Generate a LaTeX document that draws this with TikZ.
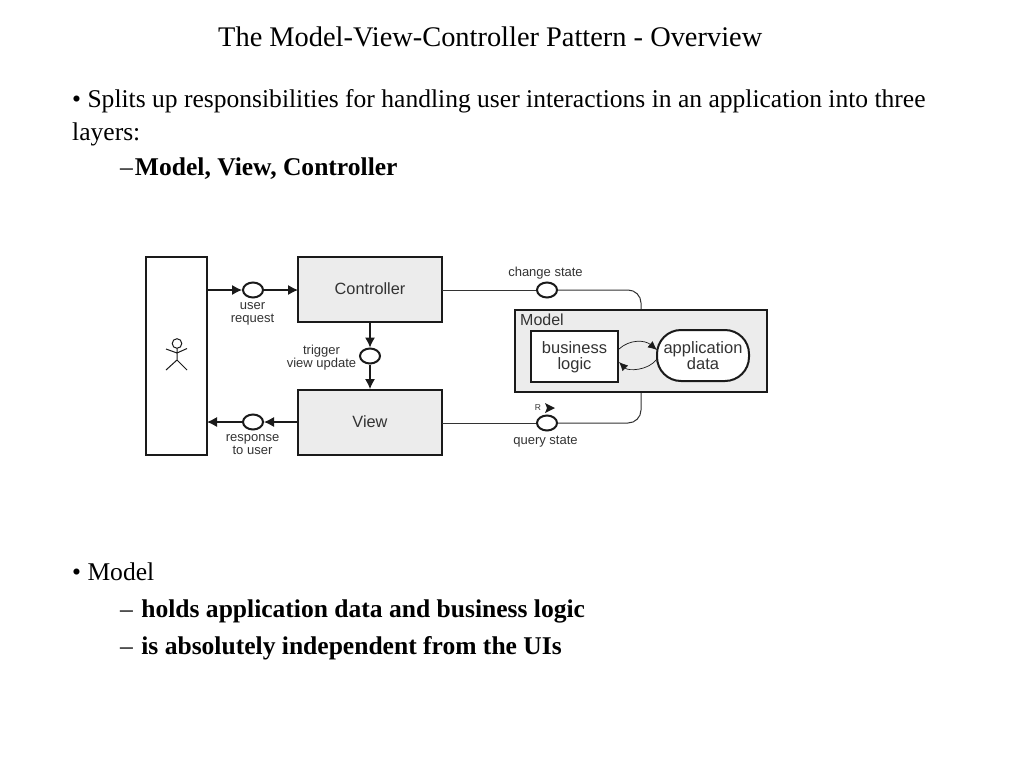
\documentclass[tikz,border=0pt]{standalone}
\usepackage{fontspec}
\setmainfont{Liberation Serif}
\newfontfamily\diagfont{Liberation Sans}
\usetikzlibrary{arrows.meta,shapes.geometric}
\definecolor{boxgray}{HTML}{ECECEC}
\definecolor{ink}{HTML}{1A1A1A}
\definecolor{lbl}{HTML}{333333}
\tikzset{
  x=1pt,y=-1pt,
  slide/.style={anchor=base west,inner sep=0pt,text=black,font=\fontsize{25.55}{30}\selectfont},
  boldline/.style={anchor=base west,inner sep=0pt,text=black,font=\fontsize{25.55}{30}\selectfont\bfseries},
  blockbox/.style={draw=ink,line width=2pt,fill=boxgray,inner sep=0pt,text=lbl,font=\diagfont\fontsize{16.3}{18}\selectfont},
  whitebox/.style={draw=ink,line width=2pt,fill=white,inner sep=0pt,text=lbl,align=center,font=\diagfont\fontsize{16.5}{16}\selectfont},
  port/.style={draw=ink,line width=2pt,fill=white,ellipse,minimum width=20pt,minimum height=15pt,inner sep=0pt},
  tinylabel/.style={inner sep=0pt,text=lbl,align=center,font=\diagfont\fontsize{13}{13}\selectfont},
  conn/.style={draw=lbl,line width=1pt},
  flow/.style={draw=ink,line width=1.1pt,-{Latex[length=10pt,width=10pt]}},
  loopflow/.style={draw=ink,line width=.7pt,-{Latex[length=9pt,width=8pt]}}
}
\begin{document}
\begin{tikzpicture}
\useasboundingbox[fill=white] (0,0) rectangle (1024,768);
% slide text
\node[anchor=base west,inner sep=0pt,font=\fontsize{28.4}{32}\selectfont] (title) at (218,47) {The Model-View-Controller Pattern - Overview};
\node[slide] (t1) at (72,107.8) {• Splits up responsibilities for handling user interactions in an application into three};
\node[slide] (t2) at (72,140.8) {layers:};
\node[boldline] (t3) at (120,175) {\mdseries –\kern2pt\bfseries Model, View, Controller};
\node[slide] (t4) at (72,580.8) {• Model};
\node[boldline] (t5) at (120,617.8) {\mdseries – \kern2pt\bfseries holds application data and business logic};
\node[boldline] (t6) at (120,654.8) {\mdseries – \kern2pt\bfseries is absolutely independent from the UIs};
% blocks
\node[draw=ink,line width=2pt,fill=white,minimum width=61pt,minimum height=198pt,inner sep=0pt] (user) at (176.5,356) {};
\node[blockbox,minimum width=144pt,minimum height=65pt] (ctrl) at (370,289.5) {\raisebox{1pt}{Controller}};
\node[blockbox,minimum width=144pt,minimum height=65pt] (view) at (370,422.5) {\raisebox{1pt}{View}};
\node[blockbox,minimum width=252pt,minimum height=82pt] (model) at (641,351) {};
\node[inner sep=0pt,anchor=base west,text=lbl,font=\diagfont\fontsize{16}{16}\selectfont] (modellbl) at (520,325.5) {Model};
\node[whitebox,minimum width=87pt,minimum height=51pt] (logic) at (574.5,356.8) {business\\logic};
\node[whitebox,minimum width=92pt,minimum height=51pt,rounded corners=24pt] (data) at (703,355.5) {\raisebox{-1pt}{application}\\\raisebox{-1pt}{data}};
% ports
\node[port] (p1) at (253,290) {};
\node[port] (p2) at (370,356) {};
\node[port] (p3) at (253,422) {};
\node[port] (p4) at (547,290) {};
\node[port] (p5) at (547,423) {};
% connectors
\coordinate (mtop) at (641,309);
\coordinate (mbot) at (641,393);
\coordinate (uR) at (207,290);
\coordinate (uL) at (207,422);
\coordinate (cR) at (298,290);
\coordinate (vL) at (298,422);
\coordinate (cE) at (442,290);
\coordinate (vE) at (442,423);
\draw[flow] (uR) -- (p1);
\draw[flow] (p1) -- (cR);
\draw[flow] (ctrl) -- (p2);
\draw[flow] (p2) -- (view);
\draw[flow] (vL) -- (p3);
\draw[flow] (p3) -- (uL);
\draw[conn] (cE) -- (p4);
\draw[conn] (vE) -- (p5);
\draw[conn,rounded corners=13pt] (p4) -| (mtop);
\draw[conn,rounded corners=13pt] (p5) -| (mbot);
\coordinate (la) at (619,349);
\coordinate (lb) at (657,350);
\coordinate (lc) at (657,359);
\coordinate (ld) at (619,362);
\draw[loopflow] (la) .. controls (630,339) and (645,340) .. (lb);
\draw[loopflow] (lc) .. controls (648,371) and (628,371) .. (ld);
% labels
\node[tinylabel] (l1) at (252.5,314) {user\\request};
\node[tinylabel] (l2) at (321.5,357.5) {trigger\\view update};
\node[tinylabel] (l3) at (252.5,444.5) {response\\to user};
\node[tinylabel] (l4) at (545.5,273) {change state};
\node[tinylabel] (l5) at (545.5,442) {query state};
\node[inner sep=0pt,text=lbl,font=\diagfont\fontsize{8.5}{9}\selectfont] (rlbl) at (538,407.5) {R};
\fill[ink] (545,403) -- (555,408) -- (545,413) -- (547,408) -- cycle;
% stick figure
\draw[ink,line width=1pt] (177,343.5) circle (4.8pt);
\coordinate (neck) at (177,348.3);
\coordinate (hip) at (177,360);
\draw[ink,line width=1pt] (neck) -- (hip) (hip) -- (166,370) (hip) -- (187,370) (166,349) -- (177,353) -- (187,348.5);
\end{tikzpicture}
\end{document}
